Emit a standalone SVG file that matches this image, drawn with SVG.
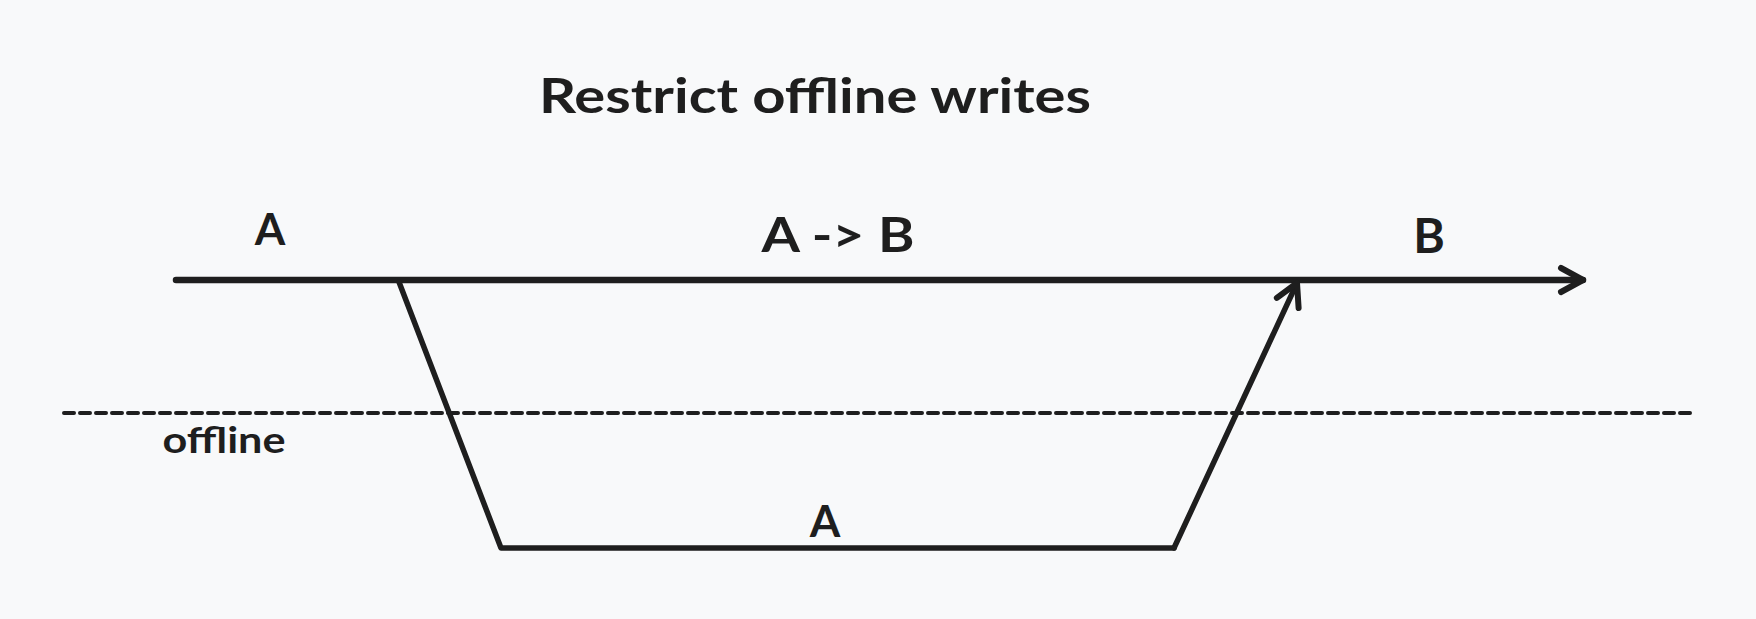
<svg xmlns="http://www.w3.org/2000/svg" width="1756" height="619" viewBox="0 0 1756 619">
<style>
.t{font-family:"Lato","Noto Sans",sans-serif;font-weight:700;fill:#1e1e1e;text-anchor:middle}
.ln{stroke:#1e1e1e;fill:none;stroke-linecap:round;stroke-linejoin:round}
</style>
<defs>
<marker id="ah" markerUnits="userSpaceOnUse" markerWidth="40" markerHeight="40" viewBox="-30 -20 40 40" refX="0" refY="0" orient="auto">
<path d="M-22,-12 L0,0 L-22,12" fill="none" stroke="#1e1e1e" stroke-width="6" stroke-linecap="round" stroke-linejoin="round"/>
</marker>
</defs>
<rect width="1756" height="619" fill="#f8f9fa"/>
<g id="title"><text class="t" x="815" y="113" font-size="48" textLength="552" lengthAdjust="spacingAndGlyphs">Restrict offline writes</text></g>
<g id="label-a-top"><text class="t" x="270" y="245" font-size="44">A</text></g>
<g id="label-a-to-b"><text class="t" x="838" y="252" font-size="48" textLength="153" lengthAdjust="spacingAndGlyphs">A -&gt; B</text></g>
<g id="label-b"><text class="t" x="1429" y="253" font-size="48">B</text></g>
<g id="label-offline"><text class="t" x="224" y="453" font-size="36" textLength="123" lengthAdjust="spacingAndGlyphs">offline</text></g>
<g id="label-a-bottom"><text class="t" x="825" y="537" font-size="44">A</text></g>
<g id="connectors">
<line class="ln" x1="64" y1="413" x2="1693" y2="413" stroke-width="4" stroke-dasharray="10 6" stroke-linecap="butt"/>
<line class="ln" x1="176" y1="280" x2="1583" y2="280" stroke-width="6.5" marker-end="url(#ah)"/>
<polyline class="ln" points="399,282 501,548 1174,548" stroke-width="5.5"/>
<line class="ln" x1="1174" y1="548" x2="1297" y2="283" stroke-width="5.5" marker-end="url(#ah)"/>
</g>
</svg>
